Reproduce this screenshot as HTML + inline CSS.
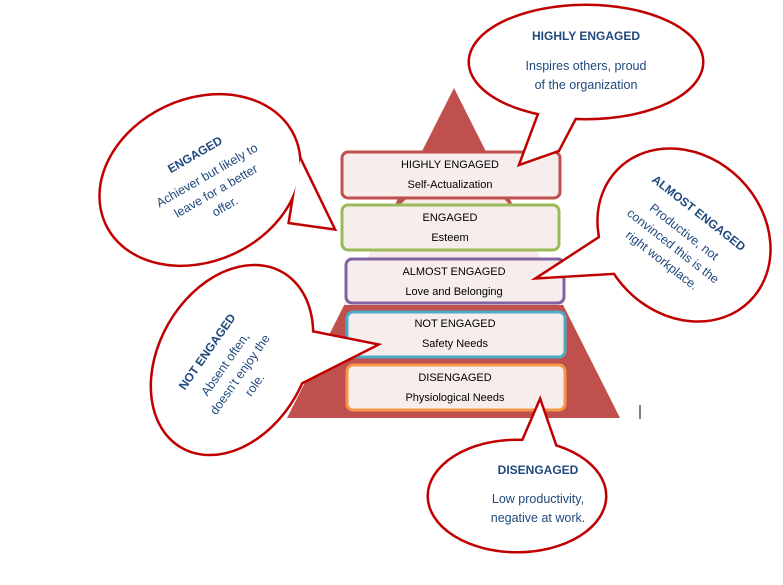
<!DOCTYPE html>
<html><head><meta charset="utf-8"><style>
html,body{margin:0;padding:0;background:#fff;}
svg{display:block;font-family:"Liberation Sans",sans-serif;}
</style></head><body>
<svg width="783" height="585" viewBox="0 0 783 585" xmlns="http://www.w3.org/2000/svg">
<defs>
<clipPath id="tri"><polygon points="454,88 287,418 620,418"/></clipPath>
</defs>
<polygon points="454,88 287,418 620,418" fill="#c0504d"/>
<polygon points="455,150 300,305 610,305" fill="#f8eaea" clip-path="url(#tri)"/>
<line x1="640" y1="405" x2="640" y2="419" stroke="#000" stroke-width="1"/>

<g stroke-width="3" fill="#f8eded">
<rect x="342" y="152" width="218" height="46" rx="6" stroke="#c0504d"/>
<rect x="342" y="205" width="217" height="45" rx="6" stroke="#9bbb59"/>
<rect x="346" y="259" width="218" height="44" rx="6" stroke="#8064a2"/>
<rect x="347" y="312" width="218" height="45" rx="6" stroke="#4bacc6"/>
<rect x="347" y="365" width="218" height="45" rx="6" stroke="#f79646"/>
</g>
<g font-size="11" fill="#000" text-anchor="middle">
<text x="450" y="168">HIGHLY ENGAGED</text><text x="450" y="188">Self-Actualization</text>
<text x="450" y="221">ENGAGED</text><text x="450" y="241">Esteem</text>
<text x="454" y="275">ALMOST ENGAGED</text><text x="454" y="295">Love and Belonging</text>
<text x="455" y="327">NOT ENGAGED</text><text x="455" y="347">Safety Needs</text>
<text x="455" y="381">DISENGAGED</text><text x="455" y="401">Physiological Needs</text>
</g>

<g id="bub">
<g stroke="#c00000" stroke-width="5" fill="#c00000" stroke-linejoin="miter">
<ellipse cx="586" cy="62" rx="116" ry="56"/>
<polygon points="540,112 578,112 558,150 521,163"/>
<ellipse cx="200" cy="180" rx="103" ry="80" transform="rotate(-25 200 180)"/>
<polygon points="300,160 290,222 333,228"/>
<ellipse cx="684" cy="235" rx="92" ry="78" transform="rotate(45 684 235)"/>
<polygon points="612,230 625,272 540,277"/>
<ellipse cx="232" cy="360" rx="72" ry="100" transform="rotate(30 232 360)"/>
<polygon points="300,330 296,385 375,345"/>
<ellipse cx="517" cy="496" rx="88" ry="55"/>
<polygon points="515,460 560,460 540,402"/>
</g>
<g fill="#fff">
<ellipse cx="586" cy="62" rx="116" ry="56"/>
<polygon points="540,112 578,112 558,150 521,163"/>
<ellipse cx="200" cy="180" rx="103" ry="80" transform="rotate(-25 200 180)"/>
<polygon points="300,160 290,222 333,228"/>
<ellipse cx="684" cy="235" rx="92" ry="78" transform="rotate(45 684 235)"/>
<polygon points="612,230 625,272 540,277"/>
<ellipse cx="232" cy="360" rx="72" ry="100" transform="rotate(30 232 360)"/>
<polygon points="300,330 296,385 375,345"/>
<ellipse cx="517" cy="496" rx="88" ry="55"/>
<polygon points="515,460 560,460 540,402"/>
</g>
</g>

<g fill="#1f497d" text-anchor="middle" font-size="12.5">
<text x="586" y="40" font-weight="bold" font-size="12">HIGHLY ENGAGED</text>
<text x="586" y="70">Inspires others, proud</text>
<text x="586" y="89">of the organization</text>

<g transform="translate(205,172) rotate(-30)">
<text x="0" y="-16" font-weight="bold" font-size="12">ENGAGED</text>
<text x="0" y="8">Achiever but likely to</text>
<text x="0" y="26">leave for a better</text>
<text x="0" y="44">offer.</text>
</g>

<g transform="translate(684,232) rotate(38)">
<text x="0" y="-20" font-weight="bold" font-size="12">ALMOST ENGAGED</text>
<text x="0" y="4">Productive, not</text>
<text x="0" y="22">convinced this is the</text>
<text x="0" y="40">right workplace.</text>
</g>

<g transform="translate(222,362) rotate(-55)">
<text x="0" y="-14" font-weight="bold" font-size="12">NOT ENGAGED</text>
<text x="0" y="8">Absent often,</text>
<text x="0" y="26">doesn’t enjoy the</text>
<text x="0" y="44">role.</text>
</g>

<text x="538" y="474" font-weight="bold" font-size="12">DISENGAGED</text>
<text x="538" y="503">Low productivity,</text>
<text x="538" y="522">negative at work.</text>
</g>
</svg>
</body></html>
